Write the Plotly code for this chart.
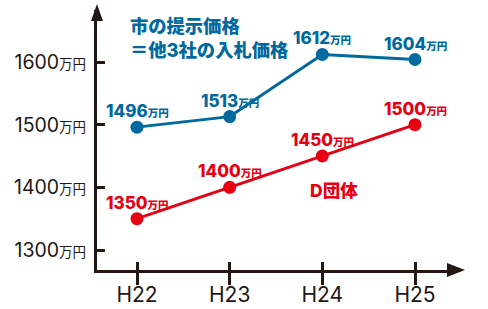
import plotly.graph_objects as go

categories = ["H22", "H23", "H24", "H25"]
city_values = [1496, 1513, 1612, 1604]
d_values = [1350, 1400, 1450, 1500]
y_ticks = [1300, 1400, 1500, 1600]

BLUE = "#00699e"
RED = "#e60012"
BLACK = "#231815"
FONT = "Inter, 'Noto Sans CJK JP', sans-serif"

xs = list(range(len(categories)))

fig = go.Figure()
fig.add_trace(go.Scatter(x=xs, y=city_values, mode="lines+markers",
                         line=dict(color=BLUE, width=2.8),
                         marker=dict(color=BLUE, size=13), showlegend=False))
fig.add_trace(go.Scatter(x=xs, y=d_values, mode="lines+markers",
                         line=dict(color=RED, width=2.8),
                         marker=dict(color=RED, size=13), showlegend=False))
# invisible trace to enable the overlay x-axis
fig.add_trace(go.Scatter(x=xs, y=d_values, xaxis="x2", mode="markers",
                         marker=dict(opacity=0), showlegend=False, hoverinfo="skip"))

def label(v):
    return f"{v}<span style='font-size:10.5px'>万円</span>"

for i, v in enumerate(city_values):
    fig.add_annotation(x=xs[i], y=v, text=label(v), showarrow=False,
                       yshift=16, font=dict(family=FONT, size=17, color=BLUE, weight=800))
for i, v in enumerate(d_values):
    fig.add_annotation(x=xs[i], y=v, text=label(v), showarrow=False,
                       yshift=16, font=dict(family=FONT, size=17, color=RED, weight=800))

fig.add_annotation(xref="paper", yref="paper", x=0.0866, y=0.894,
                   xanchor="left", yanchor="middle", align="left", showarrow=False,
                   text="市の提示価格<br>＝他3社の入札価格",
                   font=dict(family=FONT, size=18.3, color=BLUE, weight=800))
fig.add_annotation(xref="paper", yref="paper", x=0.662, y=0.304,
                   xanchor="center", yanchor="middle", showarrow=False,
                   text="D団体",
                   font=dict(family=FONT, size=17.5, color=RED, weight=800))

# arrow heads
fig.add_shape(type="path", xref="paper", yref="paper",
              path="M 0,1.0231 L -0.01676,0.9577 L 0.01676,0.9577 Z",
              fillcolor=BLACK, line=dict(width=0))
fig.add_shape(type="path", xref="paper", yref="paper",
              path="M 1.0279,0 L 0.9777,0.0269 L 0.9777,-0.0269 Z",
              fillcolor=BLACK, line=dict(width=0))

xr = [-0.4316, 3.4316]
fig.update_layout(
    width=488, height=309,
    margin=dict(l=97, r=33, t=10, b=39),
    paper_bgcolor="white", plot_bgcolor="white",
    font=dict(family=FONT, color=BLACK),
    xaxis=dict(range=xr, tickvals=xs, ticktext=categories, showgrid=False,
               zeroline=False, showline=True, linecolor=BLACK, linewidth=3,
               ticks="outside", ticklen=12, tickwidth=3, tickcolor=BLACK,
               automargin=False, ticklabelstandoff=-8,
               tickfont=dict(family=FONT, size=21, color=BLACK)),
    xaxis2=dict(range=xr, overlaying="x", anchor="y", side="bottom",
                tickvals=xs, showticklabels=False, showgrid=False, zeroline=False,
                ticks="inside", ticklen=8, tickwidth=3, tickcolor=BLACK,
                automargin=False),
    yaxis=dict(range=[1268.1, 1683], tickvals=y_ticks,
               ticktext=[f"{v}<span style='font-size:13.5px'>万円</span>" for v in y_ticks],
               showgrid=False, zeroline=False, showline=True, linecolor=BLACK,
               linewidth=3, ticks="inside", ticklen=8, tickwidth=2.5, tickcolor=BLACK,
               ticklabelstandoff=4, automargin=False,
               tickfont=dict(family=FONT, size=19.5, color=BLACK)),
)

fig.write_html("out.html", config={"displayModeBar": False},
               post_script="document.body.style.margin='0';document.body.style.overflow='hidden';")
